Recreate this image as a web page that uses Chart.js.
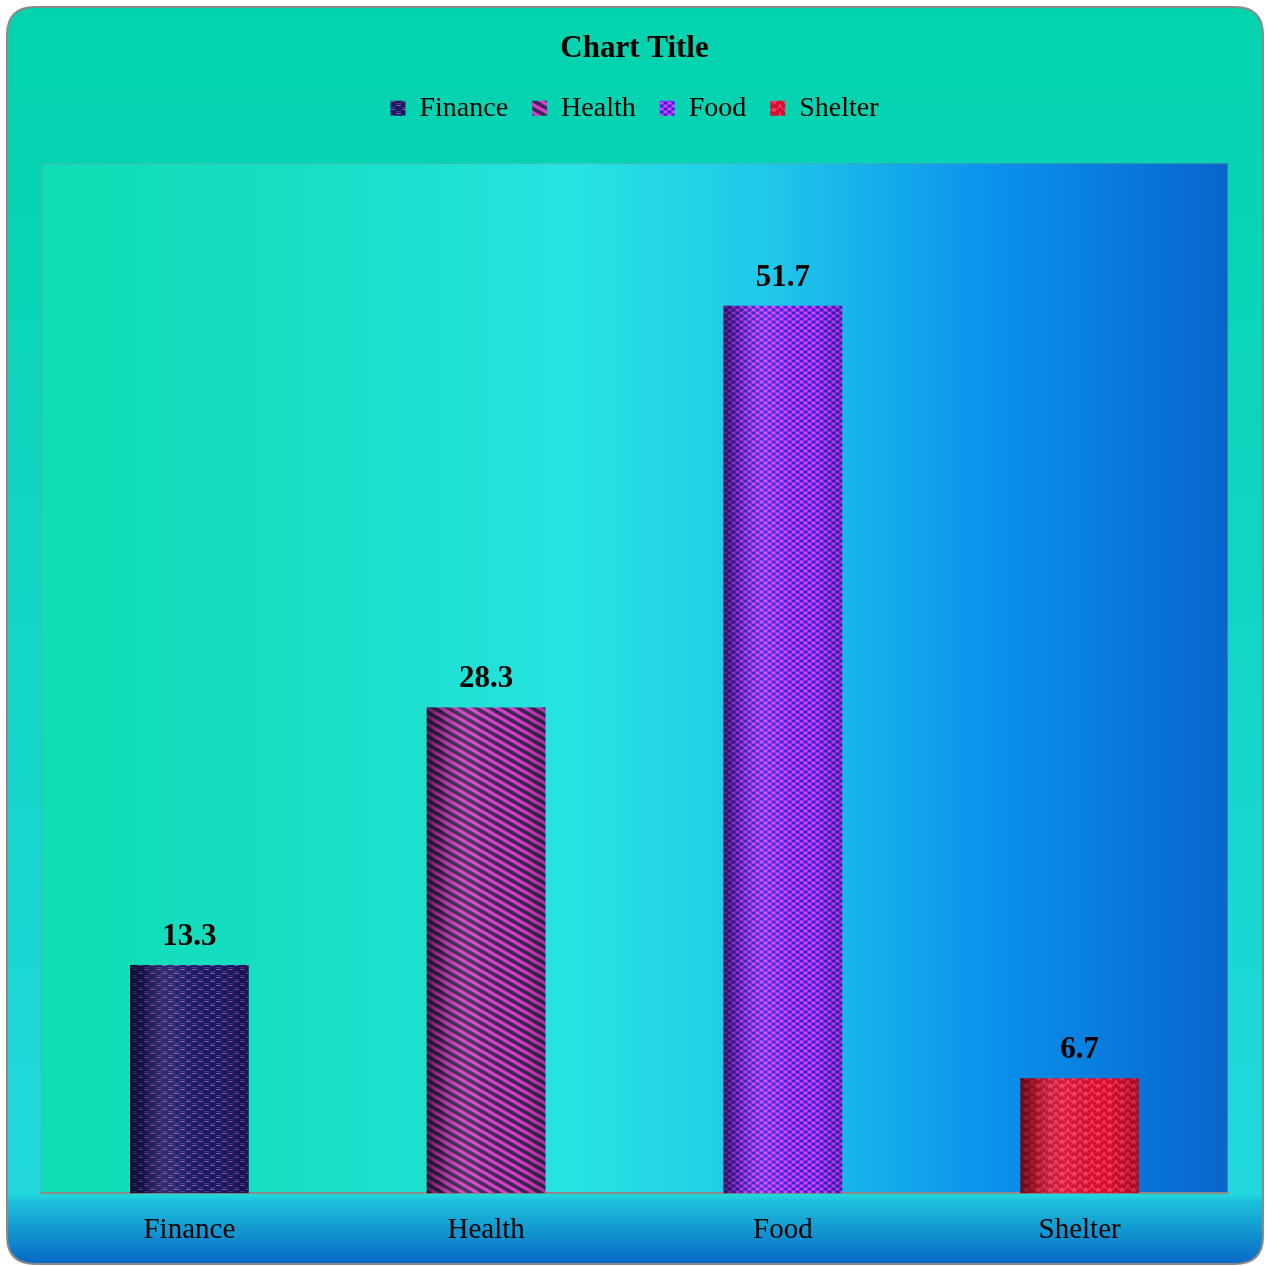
<!DOCTYPE html>
<html>
<head>
<meta charset="utf-8">
<title>Chart Title</title>
<script src="https://cdn.jsdelivr.net/npm/chart.js@4.4.1/dist/chart.umd.min.js"></script>
<style>
html, body { margin: 0; padding: 0; background: #fff; }
#wrap { position: relative; width: 1266px; height: 1266px; }
</style>
</head>
<body>
<div id="wrap"><canvas id="spendChart" width="1266" height="1266"></canvas></div>
<script>
// chart values
const categories = ['Finance', 'Health', 'Food', 'Shelter'];
const shares = [13.3, 28.3, 51.7, 6.7];
const yMax = 60;

const serif = "'Liberation Serif', 'Times New Roman', serif";
const ctx = document.getElementById('spendChart').getContext('2d');

// small tiles for the bar textures
function makeTile(w, h, draw){
    const c = document.createElement('canvas');
    c.width = w; c.height = h;
    const g = c.getContext('2d');
    draw(g, w, h);
    return ctx.createPattern(c, 'repeat');
}

const financeFill = makeTile(12, 8, function(g, w, h){
    g.fillStyle = '#1B1C5E'; g.fillRect(0, 0, w, h);
    g.fillStyle = '#9A46CC';
    g.fillRect(0, 1, 5, 1);
    g.fillRect(6, 5, 5, 1);
    g.fillStyle = '#43379C';
    g.fillRect(6, 3, 5, 1);
    g.fillRect(0, 7, 5, 1);
});

const healthFill = makeTile(14, 8, function(g, w, h){
    g.fillStyle = '#3E2656'; g.fillRect(0, 0, w, h);
    g.strokeStyle = '#DA3ECC'; g.lineWidth = 3.2;
    for (let k = -1; k <= 1; k++) {
        g.beginPath();
        g.moveTo(-2 + k * w, -1);
        g.lineTo(w + 2 + k * w, h + 1);
        g.stroke();
    }
    // wrap the stripe vertically as well
    g.beginPath(); g.moveTo(-2 - w, -1 - h); g.lineTo(2, 1); g.stroke();
    g.beginPath(); g.moveTo(-2 + w, -1 + h); g.lineTo(2 * w + 2, 2 * h + 1); g.stroke();
});

const foodFill = makeTile(8, 6, function(g, w, h){
    g.fillStyle = '#8C2AF2'; g.fillRect(0, 0, w, h);
    g.fillStyle = '#2C26EE';
    g.fillRect(0, 0, 3, 2);
    g.fillRect(4, 3, 3, 2);
    g.fillStyle = '#E24AF2';
    g.fillRect(4, 0, 3, 2);
    g.fillRect(0, 3, 3, 2);
});

const shelterFill = makeTile(12, 8, function(g, w, h){
    g.fillStyle = '#D8102E'; g.fillRect(0, 0, w, h);
    g.strokeStyle = '#FF4C7E'; g.lineWidth = 1;
    g.beginPath(); g.arc(6, 0, 6, 0, Math.PI); g.stroke();
    g.beginPath(); g.arc(0, 4, 6, 0, Math.PI); g.stroke();
    g.beginPath(); g.arc(12, 4, 6, 0, Math.PI); g.stroke();
    g.beginPath(); g.arc(6, 8, 6, 0, Math.PI); g.stroke();
});

const barFills = [financeFill, healthFill, foodFill, shelterFill];

// outer card + plot area backgrounds
const backdrop = {
    id: 'backdrop',
    beforeDraw(chart){
        const c = chart.ctx, a = chart.chartArea;
        const x0 = 7, y0 = 7, x1 = 1263, y1 = 1264, r = 28;
        c.save();
        c.beginPath();
        c.moveTo(x0 + r, y0);
        c.lineTo(x1 - r, y0); c.quadraticCurveTo(x1, y0, x1, y0 + r);
        c.lineTo(x1, y1 - r); c.quadraticCurveTo(x1, y1, x1 - r, y1);
        c.lineTo(x0 + r, y1); c.quadraticCurveTo(x0, y1, x0, y1 - r);
        c.lineTo(x0, y0 + r); c.quadraticCurveTo(x0, y0, x0 + r, y0);
        c.closePath();
        const bg = c.createLinearGradient(0, y0, 0, y1);
        bg.addColorStop(0, '#03D3AD');
        bg.addColorStop(0.5, '#12D6C6');
        bg.addColorStop(0.945, '#22D8DE');
        bg.addColorStop(0.95, '#1CC0DA');
        bg.addColorStop(1, '#0868C6');
        c.fillStyle = bg;
        c.fill();
        c.lineWidth = 2;
        c.strokeStyle = '#8A8A8A';
        c.stroke();

        const pg = c.createLinearGradient(a.left, 0, a.right, 0);
        pg.addColorStop(0, '#10DDB4');
        pg.addColorStop(0.2, '#16DEC2');
        pg.addColorStop(0.45, '#27E3E2');
        pg.addColorStop(0.62, '#1FC6EA');
        pg.addColorStop(0.8, '#0A92EC');
        pg.addColorStop(1, '#0765CC');
        c.fillStyle = pg;
        c.fillRect(a.left, a.top, a.right - a.left, a.bottom - a.top);
        c.strokeStyle = 'rgba(90,160,150,0.5)';
        c.lineWidth = 1;
        c.strokeRect(a.left + 0.5, a.top + 0.5, a.right - a.left - 1, a.bottom - a.top);
        c.restore();
    }
};

// rounded shading on the bars and the value labels
const barDecor = {
    id: 'barDecor',
    afterDatasetsDraw(chart){
        const c = chart.ctx;
        const meta = chart.getDatasetMeta(0);
        c.save();
        meta.data.forEach(function(bar, i){
            const left = bar.x - bar.width / 2;
            const sh = c.createLinearGradient(left, 0, left + bar.width, 0);
            sh.addColorStop(0, 'rgba(0,0,0,0.55)');
            sh.addColorStop(0.12, 'rgba(0,0,0,0.25)');
            sh.addColorStop(0.4, 'rgba(255,255,255,0.06)');
            sh.addColorStop(0.75, 'rgba(0,0,0,0)');
            sh.addColorStop(1, 'rgba(0,0,0,0.22)');
            c.fillStyle = sh;
            c.fillRect(left, bar.y, bar.width, bar.base - bar.y);

            c.fillStyle = '#000';
            c.font = 'bold 31px ' + serif;
            c.textAlign = 'center';
            c.textBaseline = 'middle';
            c.fillText(shares[i].toFixed(1), bar.x, bar.y - 28);
        });
        c.restore();
    }
};

// extra room under the legend
const legendGap = {
    id: 'legendGap',
    beforeInit(chart){
        const fitOrig = chart.legend.fit;
        chart.legend.fit = function(){
            fitOrig.bind(chart.legend)();
            this.height += 31;
        };
    }
};

const spendChart = new Chart(ctx, {
    type: 'bar',
    data: {
        labels: categories,
        datasets: [{
            label: 'Share',
            data: shares,
            backgroundColor: barFills,
            borderWidth: 0,
            barPercentage: 0.4,
            categoryPercentage: 1.0
        }]
    },
    options: {
        responsive: false,
        animation: false,
        devicePixelRatio: 1,
        layout: { padding: { top: 20, left: 41, right: 38, bottom: 6 } },
        plugins: {
            title: {
                display: true,
                text: 'Chart Title',
                color: '#000',
                font: { family: serif, size: 31, weight: 'bold', lineHeight: 1.2 },
                padding: { top: 10, bottom: 3 }
            },
            legend: {
                display: true,
                labels: {
                    color: '#000',
                    font: { family: serif, size: 28 },
                    boxWidth: 15,
                    boxHeight: 15,
                    padding: 24,
                    generateLabels(chart){
                        return categories.map(function(name, i){
                            return { text: name, fillStyle: barFills[i], strokeStyle: 'rgba(0,0,0,0)', lineWidth: 0, index: i, hidden: false };
                        });
                    }
                },
                onClick: function(){}
            },
            tooltip: { enabled: false }
        },
        scales: {
            x: {
                grid: { display: false },
                border: { display: true, color: '#8A8A8A', width: 2 },
                ticks: { color: '#000', font: { family: serif, size: 29 }, padding: 12 }
            },
            y: {
                display: false,
                min: 0,
                max: yMax
            }
        }
    },
    plugins: [backdrop, barDecor, legendGap]
});
</script>
</body>
</html>
